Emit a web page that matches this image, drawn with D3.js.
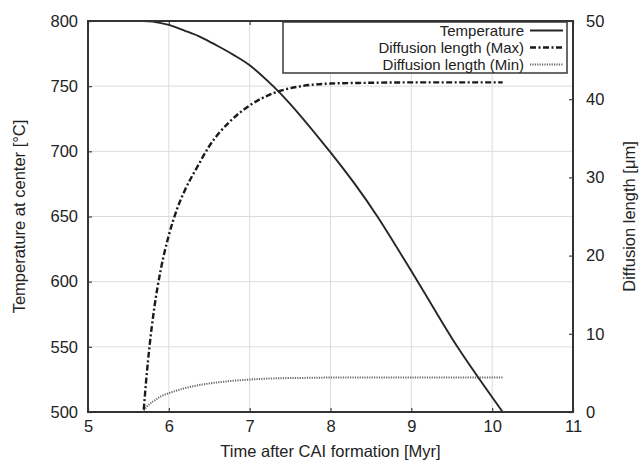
<!DOCTYPE html>
<html><head><meta charset="utf-8">
<script src="https://cdn.jsdelivr.net/npm/d3@7"></script>
<style>
html,body{margin:0;padding:0;background:#fff;}
svg text{font-family:"Liberation Sans",Arial,sans-serif;fill:#222;}
</style></head>
<body><svg id="c" width="643" height="461"></svg>
<script>
// ---- data ----
const tempTime = [5.68, 5.8, 6.0, 6.2, 6.4, 6.6, 6.8, 7.0, 7.29, 7.5, 7.99, 8.3, 8.58, 9.08, 9.57, 10.13];
const tempValues = [800, 799.5, 797, 792.5, 787.5, 781, 774, 766, 750, 736.5, 700, 675, 650, 600, 550, 500];

const diffTime = [5.69, 5.72, 5.76, 5.82, 5.9, 6.0, 6.1, 6.2, 6.35, 6.5, 6.75, 7.0, 7.3, 7.6, 8.0, 8.5, 9.0, 9.5, 10.13];
const diffMax = [0.3, 4.1, 8.3, 13.3, 18.2, 22.6, 25.9, 28.4, 31.3, 34.0, 37.1, 39.2, 40.8, 41.6, 42.0, 42.1, 42.15, 42.15, 42.15];
const diffMin = [0.2, 0.6, 1.0, 1.45, 2.0, 2.4, 2.75, 3.05, 3.4, 3.65, 3.95, 4.15, 4.3, 4.35, 4.4, 4.4, 4.4, 4.4, 4.4];

const xTicks = [5, 6, 7, 8, 9, 10, 11];
const yLeftTicks = [500, 550, 600, 650, 700, 750, 800];
const yRightTicks = [0, 10, 20, 30, 40, 50];
const legendLabels = ["Temperature", "Diffusion length (Max)", "Diffusion length (Min)"];

// ---- layout ----
const L = 88, R = 573, T = 21, B = 412;
const FS = 16.5;
const svg = d3.select("#c");
const x = d3.scaleLinear().domain([5, 11]).range([L, R]);
const yL = d3.scaleLinear().domain([500, 800]).range([B, T]);
const yR = d3.scaleLinear().domain([0, 50]).range([B, T]);

const gridColor = "#dcdcdc";
svg.append("g").selectAll("line").data(xTicks.slice(1, -1)).join("line")
  .attr("x1", d => x(d)).attr("x2", d => x(d)).attr("y1", T).attr("y2", B)
  .attr("stroke", gridColor).attr("stroke-width", 1);
svg.append("g").selectAll("line").data(yLeftTicks.slice(1, -1)).join("line")
  .attr("y1", d => yL(d)).attr("y2", d => yL(d)).attr("x1", L).attr("x2", R)
  .attr("stroke", gridColor).attr("stroke-width", 1);

const axisStyle = g => {
  g.select(".domain").remove();
  g.selectAll(".tick line").attr("stroke", "#444").attr("stroke-width", 1.2);
  g.selectAll(".tick text").attr("font-size", FS).attr("fill", "#222");
};
svg.append("g").attr("transform", `translate(0,${B})`)
  .call(d3.axisBottom(x).tickValues(xTicks).tickFormat(d3.format("d")).tickSizeInner(-4).tickPadding(8))
  .call(axisStyle);
svg.append("g").attr("transform", `translate(0,${T})`)
  .call(d3.axisTop(x).tickValues(xTicks).tickFormat("").tickSizeInner(-4))
  .call(axisStyle);
svg.append("g").attr("transform", `translate(${L},0)`)
  .call(d3.axisLeft(yL).tickValues(yLeftTicks).tickFormat(d3.format("d")).tickSizeInner(-4).tickPadding(10))
  .call(axisStyle);
svg.append("g").attr("transform", `translate(${R},0)`)
  .call(d3.axisRight(yR).tickValues(yRightTicks).tickFormat(d3.format("d")).tickSizeInner(-4).tickPadding(13))
  .call(axisStyle);

// lines
const lineT = d3.line().x((d, i) => x(tempTime[i])).y(d => yL(d)).curve(d3.curveCatmullRom.alpha(0.5));
const lineD = d3.line().x((d, i) => x(diffTime[i])).y(d => yR(d)).curve(d3.curveMonotoneX);

const styles = [
  {stroke: "#262626", w: 1.9, dash: null},
  {stroke: "#1a1a1a", w: 2.4, dash: "6,2.5,2,2.5"},
  {stroke: "#666", w: 2, dash: "1.2,1.2"}
];

svg.append("path").datum(diffMin).attr("d", lineD).attr("fill", "none")
  .attr("stroke", styles[2].stroke).attr("stroke-width", styles[2].w).attr("stroke-dasharray", styles[2].dash);
svg.append("path").datum(diffMax).attr("d", lineD).attr("fill", "none")
  .attr("stroke", styles[1].stroke).attr("stroke-width", styles[1].w).attr("stroke-dasharray", styles[1].dash);
svg.append("path").datum(tempValues).attr("d", lineT).attr("fill", "none")
  .attr("stroke", styles[0].stroke).attr("stroke-width", styles[0].w);

// legend
const lg = svg.append("g");
lg.append("rect").attr("x", 283).attr("y", 22).attr("width", 284).attr("height", 51)
  .attr("fill", "#fff").attr("stroke", "#444").attr("stroke-width", 1.6);
legendLabels.forEach((lab, i) => {
  const yy = 30.5 + i * 17;
  lg.append("text").attr("x", 524).attr("y", yy).attr("dy", "0.35em")
    .attr("text-anchor", "end").attr("font-size", 15).text(lab);
  lg.append("line").attr("x1", 530).attr("x2", 563).attr("y1", yy).attr("y2", yy)
    .attr("stroke", styles[i].stroke).attr("stroke-width", styles[i].w)
    .attr("stroke-dasharray", styles[i].dash);
});

// frame
svg.append("rect").attr("x", L).attr("y", T).attr("width", R - L).attr("height", B - T)
  .attr("fill", "none").attr("stroke", "#333").attr("stroke-width", 2);

// axis titles
svg.append("text").attr("x", (L + R) / 2).attr("y", 451).attr("dy", "0.35em")
  .attr("text-anchor", "middle").attr("font-size", FS).text("Time after CAI formation [Myr]");
svg.append("text").attr("transform", `translate(19,${(T + B) / 2}) rotate(-90)`)
  .attr("dy", "0.35em").attr("text-anchor", "middle").attr("font-size", FS).text("Temperature at center [°C]");
svg.append("text").attr("transform", `translate(629,${(T + B) / 2}) rotate(-90)`)
  .attr("dy", "0.35em").attr("text-anchor", "middle").attr("font-size", FS).text("Diffusion length [μm]");
</script></body></html>
